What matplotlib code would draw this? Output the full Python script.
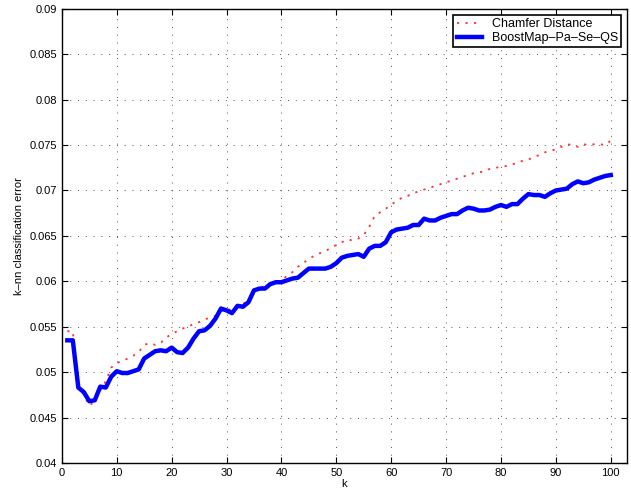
import numpy as np
from matplotlib import pyplot as plt
from matplotlib.ticker import FormatStrFormatter

k = list(range(1, 101))

chamfer = [0.0545, 0.0545, 0.0485, 0.0475, 0.0463, 0.0468, 0.0480, 0.0490, 0.0505, 0.0510,
           0.0512, 0.0515, 0.0518, 0.0522, 0.0530, 0.0532, 0.0530, 0.0532, 0.0538, 0.0542,
           0.0545, 0.0548, 0.0550, 0.0553, 0.0555, 0.0558, 0.0560, 0.0562, 0.0567, 0.0570,
           0.0568, 0.0572, 0.0575, 0.0580, 0.0588, 0.0594, 0.0594, 0.0597, 0.0598, 0.0601,
           0.0606, 0.0610, 0.0616, 0.0620, 0.0625, 0.0628, 0.0631, 0.0633, 0.0637, 0.0640,
           0.0643, 0.0646, 0.0645, 0.0647, 0.0651, 0.0660, 0.0672, 0.0676, 0.0680, 0.0684,
           0.0689, 0.0692, 0.0694, 0.0697, 0.0699, 0.0701, 0.0703, 0.0705, 0.0707, 0.0709,
           0.0711, 0.0713, 0.0715, 0.0717, 0.0719, 0.0720, 0.0721, 0.0724, 0.0725, 0.0726,
           0.0727, 0.0729, 0.0730, 0.0733, 0.0734, 0.0737, 0.0739, 0.0742, 0.0744, 0.0745,
           0.0748, 0.0751, 0.0750, 0.0748, 0.0751, 0.0750, 0.0751, 0.0751, 0.0750, 0.0755]

boostmap = [0.0535, 0.0535, 0.0483, 0.0478, 0.0468, 0.0469, 0.0484, 0.0483, 0.0495, 0.0501,
            0.0499, 0.0499, 0.0501, 0.0503, 0.0515, 0.0519, 0.0523, 0.0524, 0.0523, 0.0527,
            0.0522, 0.0521, 0.0527, 0.0537, 0.0545, 0.0546, 0.0551, 0.0559, 0.0570, 0.0568,
            0.0565, 0.0573, 0.0572, 0.0577, 0.0590, 0.0592, 0.0592, 0.0597, 0.0599, 0.0599,
            0.0601, 0.0603, 0.0604, 0.0609, 0.0614, 0.0614, 0.0614, 0.0614, 0.0616, 0.0620,
            0.0626, 0.0628, 0.0629, 0.0630, 0.0627, 0.0636, 0.0639, 0.0639, 0.0643, 0.0654,
            0.0657, 0.0658, 0.0659, 0.0662, 0.0662, 0.0669, 0.0667, 0.0667, 0.0670, 0.0672,
            0.0674, 0.0674, 0.0678, 0.0681, 0.0680, 0.0678, 0.0678, 0.0679, 0.0682, 0.0684,
            0.0682, 0.0685, 0.0685, 0.0691, 0.0696, 0.0695, 0.0695, 0.0693, 0.0697, 0.0700,
            0.0701, 0.0702, 0.0707, 0.0710, 0.0708, 0.0709, 0.0712, 0.0714, 0.0716, 0.0717]


def main():
	plt.rcParams['font.family'] = ['Liberation Sans', 'DejaVu Sans']
	plt.rcParams['font.size'] = 8
	fig = plt.figure(figsize=(6.31, 4.93), dpi=100)
	ax = fig.add_axes([0.098, 0.061, 0.896, 0.921])
	ax.plot(k, chamfer, color='#ff3030', linestyle=(0, (1.2, 3.5)), linewidth=1.3, label='Chamfer Distance')
	ax.plot(k, boostmap, color='blue', linestyle='-', linewidth=3.2, label='BoostMap\u2013Pa\u2013Se\u2013QS')
	ax.set_xlim(0, 103)
	ax.set_ylim(0.04, 0.09)
	ax.set_xticks(range(0, 101, 10))
	ax.set_yticks(np.arange(0.04, 0.0901, 0.005))
	ax.yaxis.set_major_formatter(FormatStrFormatter('%g'))
	ax.grid(True, color='#555555', linestyle=(0, (1, 7)), linewidth=0.7)
	ax.tick_params(direction='in', length=4, width=0.8, labelsize=8)
	ax.tick_params(top=True, right=True)
	for s in ax.spines.values():
		s.set_linewidth(1.0)
	ax.set_xlabel('k', fontsize=8, labelpad=1)
	ax.set_ylabel('k\u2013nn classification error', fontsize=8, labelpad=4)
	leg = ax.legend(loc='upper right', fancybox=False, framealpha=1, edgecolor='black',
	                fontsize=9, handlelength=2.0, borderaxespad=0.5, borderpad=0.25, labelspacing=0.15)
	leg.get_frame().set_linewidth(1.2)
	plt.savefig('out.png', dpi=100)
	plt.close()


if __name__ == '__main__':
	main()
